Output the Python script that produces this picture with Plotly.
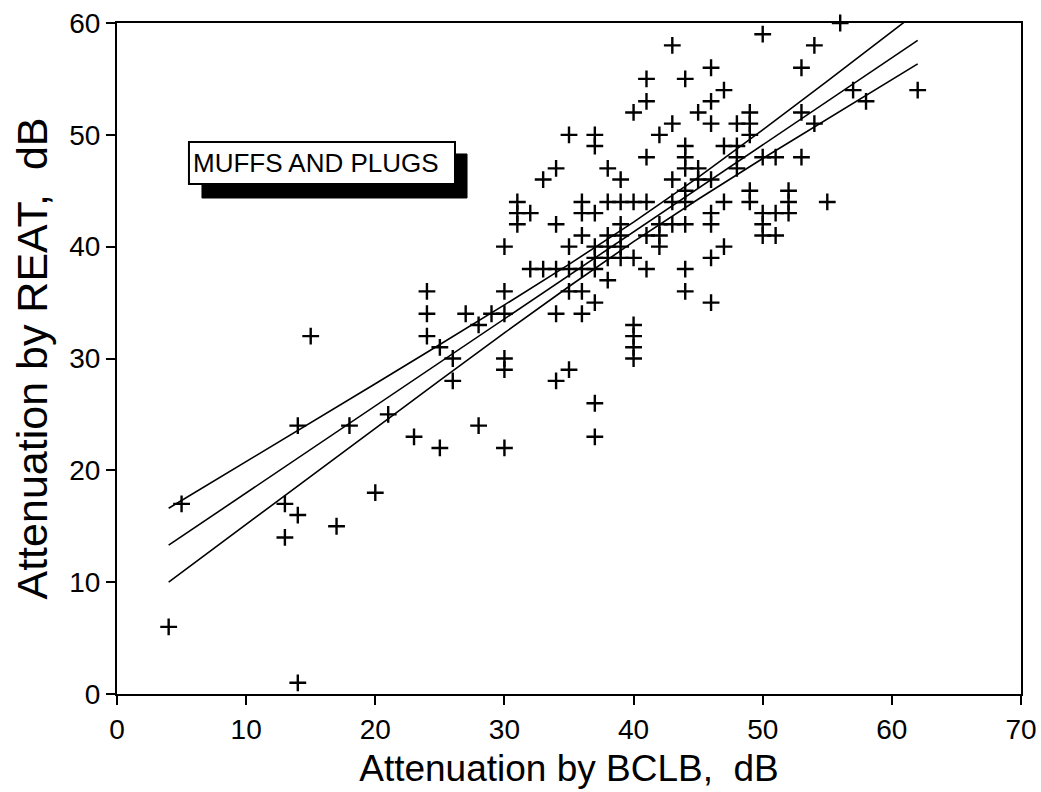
import plotly.graph_objects as go

# Scatter data: attenuation by BCLB (x) vs attenuation by REAT (y), dB
bclb = [4, 5, 13, 13, 14, 14, 14, 15, 17, 18, 20, 21, 23,
        24, 24, 24, 25, 25, 26, 26, 27, 28, 28, 29,
        30, 30, 30, 30, 30, 30,
        31, 31, 31, 32, 33, 34, 34, 35,
        32, 33, 34, 35, 36, 37,
        34, 34, 35, 35, 35, 36, 36, 37, 37, 37,
        36, 36, 37, 36,
        37, 37, 38, 39,
        38, 39, 40, 41,
        39, 38, 39, 37, 38, 39, 37, 38, 39, 40, 38,
        40, 40, 40, 40,
        41, 41, 41, 42, 42, 42, 43, 44, 42, 43, 43, 43,
        40, 41, 41, 43, 44,
        44, 44, 44, 44, 44, 44, 44,
        45, 45, 45,
        46, 46, 46, 46, 46, 46, 46, 46,
        47, 47, 47, 47,
        48, 48, 48, 48,
        49, 49, 49, 49, 49,
        50, 50, 50, 50, 50,
        51, 51, 51,
        52, 52, 52,
        53, 53, 53,
        54, 54,
        55, 56, 57, 58, 62]
reat = [6, 17, 17, 14, 16, 24, 1, 32, 15, 24, 18, 25, 23,
        36, 34, 32, 31, 22, 30, 28, 34, 33, 24, 34,
        40, 36, 34, 30, 29, 22,
        44, 43, 42, 43, 46, 47, 42, 50,
        38, 38, 38, 38, 38, 38,
        34, 28, 29, 40, 36, 36, 34, 35, 26, 23,
        44, 43, 43, 41,
        50, 49, 47, 46,
        44, 44, 44, 44,
        42, 41, 41, 40, 40, 40, 39, 39, 39, 39, 37,
        33, 32, 31, 30,
        48, 38, 41, 41, 40, 42, 42, 42, 50, 51, 46, 44,
        52, 53, 55, 58, 55,
        49, 48, 47, 45, 44, 38, 36,
        52, 47, 46,
        56, 53, 51, 46, 43, 42, 39, 35,
        54, 49, 44, 40,
        51, 49, 48, 47,
        52, 51, 50, 45, 44,
        59, 48, 43, 42, 41,
        48, 43, 41,
        45, 44, 43,
        56, 52, 48,
        58, 51,
        44, 60, 54, 53, 54]

# Regression line and confidence band
fit_x = [4, 8, 12, 16, 20, 25, 30, 35, 40, 45, 50, 55, 62]
fit_mid = [13.31, 16.42, 19.54, 22.65, 25.76, 29.65, 33.54, 37.43, 41.32, 45.21, 49.10, 52.99, 58.44]
fit_upper = [16.61, 19.38, 22.17, 24.95, 27.74, 31.25, 34.79, 38.42, 42.19, 46.2, 50.45, 54.8, 61.0]
fit_lower = [10.01, 13.46, 16.91, 20.35, 23.78, 28.05, 32.29, 36.44, 40.45, 44.24, 47.88, 51.43, 56.34]

x_ticks = [0, 10, 20, 30, 40, 50, 60, 70]
y_ticks = [0, 10, 20, 30, 40, 50, 60]

FONT = "Liberation Sans, Arial, sans-serif"

fig = go.Figure()
for ys in (fit_upper, fit_mid, fit_lower):
    fig.add_trace(go.Scatter(x=fit_x, y=ys, mode="lines",
                             line=dict(color="black", width=1.6),
                             showlegend=False, hoverinfo="skip"))

fig.add_trace(go.Scatter(x=bclb, y=reat, mode="markers",
                         marker=dict(symbol="cross-thin", size=12,
                                     line=dict(color="black", width=2.4),
                                     color="black"),
                         showlegend=False, cliponaxis=False))

# Label box with drop shadow
fig.add_shape(type="rect", xref="paper", yref="paper",
              x0=0.0940, x1=0.3872, y0=0.7392, y1=0.8048,
              fillcolor="black", line=dict(color="black", width=1), layer="above")
fig.add_shape(type="rect", xref="paper", yref="paper",
              x0=0.0796, x1=0.3739, y0=0.7601, y1=0.8227,
              fillcolor="white", line=dict(color="black", width=2), layer="above")
fig.add_annotation(text="MUFFS AND PLUGS", xref="paper", yref="paper",
                   x=0.082, y=0.7914, xanchor="left", yanchor="middle",
                   showarrow=False, font=dict(family=FONT, size=26, color="black"))

axis_common = dict(showgrid=False, zeroline=False, showline=True, linecolor="black",
                   linewidth=2, mirror=True, ticks="outside", ticklen=9, tickwidth=2,
                   tickcolor="black", tickfont=dict(family=FONT, size=28, color="black"))

fig.update_xaxes(range=[0, 70], tickvals=x_ticks, **axis_common,
                 title=dict(text="Attenuation by BCLB,  dB", standoff=12,
                            font=dict(family=FONT, size=37, color="black")))
fig.update_yaxes(range=[0, 60], tickvals=y_ticks, **axis_common,
                 title=dict(text="Attenuation by REAT,  dB", standoff=8,
                            font=dict(family=FONT, size=43, color="black")))

fig.update_layout(width=1041, height=792, plot_bgcolor="white", paper_bgcolor="white",
                  margin=dict(l=117, r=20, t=23, b=98, autoexpand=False))

fig.write_html("out.html")
